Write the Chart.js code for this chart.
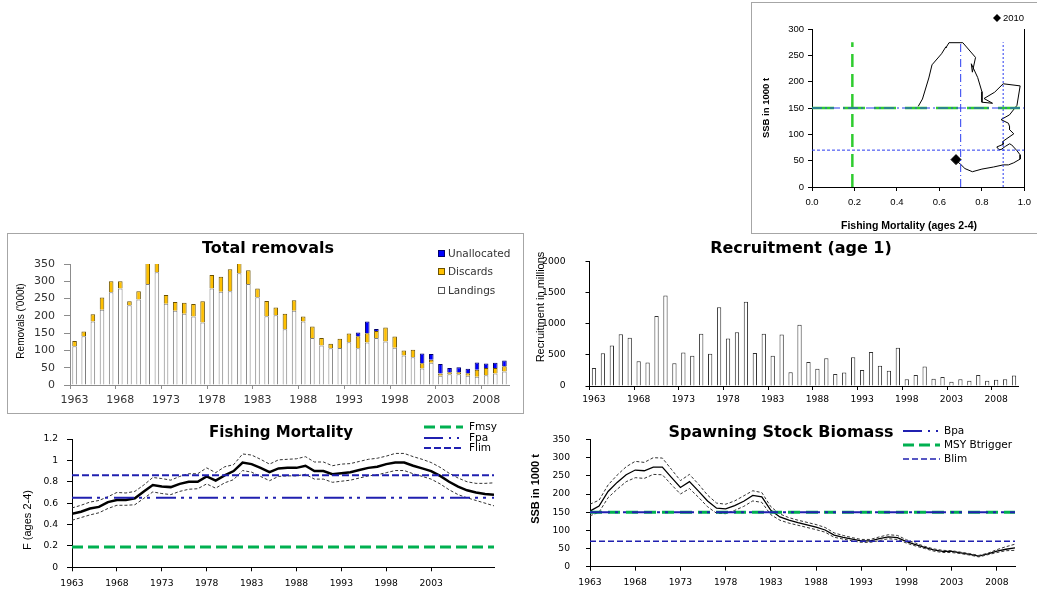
<!DOCTYPE html>
<html>
<head>
<meta charset="UTF-8" />
<title>Stock summary</title>
<script src="https://cdn.jsdelivr.net/npm/chart.js"></script>
<style>
  body { margin: 0; padding: 0; background: #fff; width: 1037px; height: 594px; position: relative; overflow: hidden; }
  canvas { position: absolute; display: block; }
  .box { position: absolute; border: 1px solid #a6a6a6; box-sizing: border-box; }
</style>
</head>
<body>
<div class="box" style="left:751px;top:2px;width:300px;height:232px;"></div>
<div class="box" style="left:7px;top:233px;width:517px;height:181px;"></div>
<canvas id="kite"></canvas>
<canvas id="removals"></canvas>
<canvas id="recruits"></canvas>
<canvas id="fishing"></canvas>
<canvas id="ssb"></canvas>
<script>
const years = [1963,1964,1965,1966,1967,1968,1969,1970,1971,1972,1973,1974,1975,1976,1977,1978,1979,1980,1981,1982,
  1983,1984,1985,1986,1987,1988,1989,1990,1991,1992,1993,1994,1995,1996,1997,1998,1999,2000,2001,2002,
  2003,2004,2005,2006,2007,2008,2009,2010];
const tickYears = [1963,1968,1973,1978,1983,1988,1993,1998,2003,2008];
const fTickYears = [1963,1968,1973,1978,1983,1988,1993,1998,2003];

// removals ('000 t)
const landings = [112,141,184,218,268,279,231,247,292,326, 235,215,206,198,181,279,270,271,323,292,
  254,199,202,161,215,184,136,114,106,107, 124,106,123,136,126,108,85,80,48,64, 27,31,31,27,24,28,33,39];
const discards = [15,14,21,35,32,21,11,24,63,34, 25,25,32,36,61,39,43,64,38,40,
  25,44,22,45,30,14,33,22,13,27, 25,35,27,20,40,32,15,22,15,9, 6,6,6,7,20,21,16,15];
const unallocated = [0,0,0,0,0,0,0,0,0,0, 0,0,0,0,0,0,0,0,0,0,
  0,0,0,0,0,0,0,0,0,0, 0,11,34,6,0,0,0,0,28,17, 28,12,14,13,21,13,15,17];

// recruitment age 1 (millions)
const recruitment = [290,527,650,832,775,399,379,1123,1455,365, 537,488,838,517,1265,765,862,1355,530,838,
  485,828,219,985,385,276,445,192,217,463, 256,547,325,246,616,108,177,315,118,143, 69,108,84,177,84,99,108,167];

// fishing mortality ages 2-4
const fMean = [0.50,0.52,0.55,0.565,0.61,0.63,0.63,0.645,0.71,0.77, 0.755,0.75,0.78,0.80,0.80,0.85,0.81,0.86,0.90,0.98,
  0.965,0.93,0.89,0.925,0.93,0.93,0.95,0.90,0.90,0.87, 0.88,0.89,0.91,0.93,0.94,0.965,0.98,0.98,0.95,0.925,
  0.90,0.855,0.80,0.755,0.72,0.70,0.685,0.678];
const fHigh = [0.555,0.58,0.61,0.625,0.66,0.70,0.695,0.71,0.77,0.84, 0.83,0.815,0.85,0.875,0.875,0.93,0.885,0.94,0.96,1.06,
  1.05,1.01,0.965,1.005,1.01,1.015,1.035,0.985,0.985,0.95, 0.965,0.97,0.99,1.01,1.02,1.04,1.065,1.065,1.035,1.01,
  0.98,0.935,0.88,0.835,0.80,0.785,0.785,0.79];
const fLow = [0.44,0.465,0.49,0.51,0.55,0.58,0.58,0.585,0.645,0.705, 0.69,0.68,0.71,0.73,0.735,0.78,0.74,0.79,0.82,0.905,
  0.89,0.85,0.81,0.85,0.855,0.855,0.87,0.825,0.825,0.795, 0.805,0.815,0.835,0.855,0.865,0.885,0.905,0.905,0.875,0.85,
  0.825,0.78,0.725,0.68,0.65,0.625,0.60,0.575];

// spawning stock biomass (1000 t)
const ssbMean = [153,167,207,232,253,266,264,274,274,246, 218,234,208,181,161,159,168,180,196,192,
  155,137,128,121,115,109,101,87,81,76, 71,71,77,82,80,69,61,53,46,42, 42,38,34,29,35,43,48,52];
const ssbHigh = [172,183,225,252,275,290,287,300,299,268, 237,254,227,197,175,172,181,195,209,204,
  165,145,135,128,122,116,108,93,86,80, 75,75,82,88,86,74,65,56,49,45, 44,40,36,31,37,47,55,62];
const ssbLow = [140,150,190,213,234,245,243,254,253,226, 200,215,191,165,147,146,155,166,181,177,
  143,128,120,114,108,102,95,81,76,71, 67,67,72,77,75,65,57,50,43,39, 39,36,32,27,33,39,44,45];

// reference points
const FMSY = 0.19, FPA = 0.65, FLIM = 0.86;
const KITE_FPA = 0.7, KITE_FLIM = 0.9, KITE_TOP = 275;
const BPA = 150, BTRIGGER = 150, BLIM = 70;

const SANS = "'DejaVu Sans', sans-serif";
const ARIAL = "'Liberation Sans', Arial, sans-serif";
const NARROW = "'Liberation Sans Narrow', 'Liberation Sans', Arial, sans-serif";
const GREEN = '#00b050', BLUE = '#2020b0', KBLUE = '#2a3cf0', KGREEN = '#2fcc2f';
const DASHDOT = [20, 5, 3, 5, 3, 6];

Chart.defaults.animation = false;
Chart.defaults.plugins.legend.display = false;
Chart.defaults.plugins.tooltip.enabled = false;
Chart.defaults.color = '#000';

// draws titles, axis names and legends at page coordinates
const deco = {
  id: 'deco',
  afterDraw(chart, args, o) {
    const ctx = chart.ctx;
    const ox = o.origin[0], oy = o.origin[1];
    ctx.save();
    (o.lines || []).forEach(l => {
      ctx.beginPath();
      ctx.strokeStyle = l.color; ctx.lineWidth = l.width; ctx.setLineDash(l.dash || []);
      ctx.moveTo(l.x1 - ox, l.y - oy); ctx.lineTo(l.x2 - ox, l.y - oy); ctx.stroke();
    });
    ctx.setLineDash([]);
    (o.swatches || []).forEach(s => {
      ctx.fillStyle = s.fill; ctx.strokeStyle = s.stroke; ctx.lineWidth = 1;
      if (s.diamond) {
        ctx.beginPath();
        ctx.moveTo(s.x - ox, s.y - oy - s.r); ctx.lineTo(s.x - ox + s.r, s.y - oy);
        ctx.lineTo(s.x - ox, s.y - oy + s.r); ctx.lineTo(s.x - ox - s.r, s.y - oy);
        ctx.closePath(); ctx.fill();
      } else {
        ctx.fillRect(s.x - ox, s.y - oy, s.w, s.h);
        ctx.strokeRect(s.x - ox + 0.5, s.y - oy + 0.5, s.w - 1, s.h - 1);
      }
    });
    (o.texts || []).forEach(t => {
      ctx.save();
      ctx.translate(t.x - ox, t.y - oy);
      if (t.rotate) ctx.rotate(-Math.PI / 2);
      ctx.font = t.font; ctx.fillStyle = t.color || '#000';
      ctx.textAlign = t.align || 'center'; ctx.textBaseline = 'middle';
      ctx.fillText(t.text, 0, 0);
      ctx.restore();
    });
    ctx.restore();
  }
};

function place(id, left, top, w, h) {
  const c = document.getElementById(id);
  c.width = w; c.height = h;
  c.style.left = left + 'px'; c.style.top = top + 'px';
  return c;
}
const fixW = w => s => { s.width = w; };
const fixH = h => s => { s.height = h; };
const pts = (xs, ys) => xs.map((x, i) => ({ x: x, y: ys[i] }));
const flat = (x1, x2, y) => [{ x: x1, y: y }, { x: x2, y: y }];
const lineDs = (data, color, width, dash) => ({
  data: data, borderColor: color, borderWidth: width, borderDash: dash || [],
  pointRadius: 0, fill: false, tension: 0
});
const plain = v => String(v);

// ---- kite plot (F vs SSB) ----
const kiteTrack = pts(fMean, ssbMean);
new Chart(place('kite', 752, 4, 285, 229), {
  type: 'scatter',
  data: {
    datasets: [
      Object.assign(lineDs(flat(0, 1, BPA), KBLUE, 1.2, [10, 3, 2, 3]), { showLine: true }),
      Object.assign(lineDs(flat(0, 1, BTRIGGER), KGREEN, 2.5, [22, 9]), { showLine: true }),
      Object.assign(lineDs([{ x: FMSY, y: 0 }, { x: FMSY, y: KITE_TOP }], KGREEN, 2.5, [13, 7]), { showLine: true }),
      Object.assign(lineDs([{ x: KITE_FPA, y: 0 }, { x: KITE_FPA, y: KITE_TOP }], KBLUE, 1, [8, 3, 1, 3]), { showLine: true }),
      Object.assign(lineDs([{ x: KITE_FLIM, y: 0 }, { x: KITE_FLIM, y: KITE_TOP }], KBLUE, 1, [2, 2]), { showLine: true }),
      Object.assign(lineDs(flat(0, 1, BLIM), KBLUE, 1, [3, 2]), { showLine: true }),
      {
        data: kiteTrack, showLine: true, borderColor: '#000', borderWidth: 1, tension: 0,
        pointStyle: 'rectRot', backgroundColor: '#000', borderJoinStyle: 'miter',
        pointRadius: c => (c.dataIndex === kiteTrack.length - 1 ? 5 : 0)
      }
    ]
  },
  options: {
    responsive: false,
    layout: { padding: { top: 25, right: 10, left: 0, bottom: 0 } },
    scales: {
      x: {
        type: 'linear', min: 0, max: 1, afterFit: fixH(46),
        border: { color: '#000' },
        grid: { drawOnChartArea: false, tickLength: 4, color: '#000' },
        ticks: { stepSize: 0.2, padding: 6, font: { family: NARROW, size: 9.5 }, callback: v => v.toFixed(1) }
      },
      y: {
        min: 0, max: 300, afterFit: fixW(60),
        border: { color: '#000' },
        grid: { drawOnChartArea: false, tickLength: 4, color: '#000' },
        ticks: { stepSize: 50, padding: 4, font: { family: NARROW, size: 9.5 }, callback: plain }
      },
      y2: {
        position: 'right', min: 0, max: 300, afterFit: fixW(0),
        border: { color: '#000' }, grid: { display: false }, ticks: { display: false }
      }
    },
    plugins: {
      deco: {
        origin: [752, 4],
        swatches: [{ diamond: true, x: 997, y: 18, r: 4, fill: '#000', stroke: '#000' }],
        texts: [
          { text: '2010', x: 1003, y: 18, align: 'left', font: '9.5px ' + NARROW },
          { text: 'SSB in 1000 t', x: 766, y: 108, rotate: true, font: 'bold 9.5px ' + ARIAL },
          { text: 'Fishing Mortality (ages 2-4)', x: 909, y: 226, font: 'bold 10.5px ' + ARIAL }
        ]
      }
    }
  },
  plugins: [deco]
});

// ---- total removals ----
const labelEvery = (v, i) => (tickYears.includes(years[i]) ? String(years[i]) : '');
const tickColor = col => c => (tickYears.includes(years[c.index]) ? col : 'rgba(0,0,0,0)');
new Chart(place('removals', 8, 235, 514, 177), {
  type: 'bar',
  data: {
    labels: years,
    datasets: [
      { label: 'Landings', data: landings, backgroundColor: '#ffffff', borderColor: '#7f7f7f', borderWidth: 1 },
      { label: 'Discards', data: discards, backgroundColor: '#ffc000', borderColor: '#6b5200', borderWidth: 1 },
      { label: 'Unallocated', data: unallocated, backgroundColor: '#0000ff', borderColor: '#00006b', borderWidth: 1 }
    ]
  },
  options: {
    responsive: false,
    layout: { padding: { top: 29, right: 13, left: 0, bottom: 0 } },
    datasets: { bar: { barPercentage: 0.5, categoryPercentage: 1.0 } },
    scales: {
      x: {
        stacked: true, afterFit: fixH(27),
        border: { color: '#8c8c8c' },
        grid: { drawOnChartArea: false, tickLength: 4, color: tickColor('#8c8c8c') },
        ticks: { autoSkip: false, maxRotation: 0, padding: 5, color: '#333', font: { family: SANS, size: 11 }, callback: labelEvery }
      },
      y: {
        stacked: true, min: 0, max: 350, afterFit: fixW(62),
        border: { color: '#8c8c8c' },
        grid: { drawOnChartArea: false, tickLength: 6, color: '#8c8c8c' },
        ticks: { stepSize: 50, padding: 9, color: '#333', font: { family: SANS, size: 11 }, callback: plain }
      }
    },
    plugins: {
      deco: {
        origin: [8, 235],
        swatches: [
          { x: 438, y: 250, w: 7, h: 7, fill: '#0000ff', stroke: '#00006b' },
          { x: 438, y: 268, w: 7, h: 7, fill: '#ffc000', stroke: '#6b5200' },
          { x: 438, y: 287, w: 7, h: 7, fill: '#ffffff', stroke: '#555' }
        ],
        texts: [
          { text: 'Total removals', x: 268, y: 249, font: 'bold 16px ' + SANS },
          { text: 'Unallocated', x: 448, y: 254, align: 'left', color: '#333', font: '10.5px ' + SANS },
          { text: 'Discards', x: 448, y: 272, align: 'left', color: '#333', font: '10.5px ' + SANS },
          { text: 'Landings', x: 448, y: 291, align: 'left', color: '#333', font: '10.5px ' + SANS },
          { text: "Removals ('000t)", x: 21, y: 321, rotate: true, font: '10px ' + ARIAL }
        ]
      }
    }
  },
  plugins: [deco]
});

// ---- recruitment ----
new Chart(place('recruits', 527, 236, 510, 177), {
  type: 'bar',
  data: {
    labels: years,
    datasets: [{ data: recruitment, backgroundColor: '#ffffff', borderColor: '#333', borderWidth: 1 }]
  },
  options: {
    responsive: false,
    layout: { padding: { top: 15, right: 18.5, left: 0, bottom: 0 } },
    datasets: { bar: { barPercentage: 0.48, categoryPercentage: 1.0 } },
    scales: {
      x: {
        afterFit: fixH(27),
        border: { color: '#000' },
        grid: { drawOnChartArea: false, tickLength: 4, color: tickColor('#000') },
        ticks: { autoSkip: false, maxRotation: 0, padding: 4, font: { family: SANS, size: 9.2 }, callback: labelEvery }
      },
      y: {
        min: 0, max: 2000, afterFit: fixW(62.5),
        border: { color: '#000' },
        grid: { drawOnChartArea: false, tickLength: 4, color: '#000' },
        ticks: { stepSize: 500, padding: 20, font: { family: SANS, size: 9.2 }, callback: plain }
      }
    },
    plugins: {
      deco: {
        origin: [527, 236],
        texts: [
          { text: 'Recruitment (age 1)', x: 801, y: 249, font: 'bold 16px ' + SANS },
          { text: 'Recruitment in millions', x: 541, y: 307, rotate: true, font: '11px ' + NARROW }
        ]
      }
    }
  },
  plugins: [deco]
});

// ---- fishing mortality ----
const yearAxis = (ticksList, h) => ({
  type: 'linear', min: years[0], max: years[years.length - 1], afterFit: fixH(h),
  afterBuildTicks: s => { s.ticks = ticksList.map(v => ({ value: v })); },
  border: { color: '#000' },
  grid: { drawOnChartArea: false, tickLength: 4, color: '#000' },
  ticks: { padding: 6.5, font: { family: SANS, size: 9.2 }, callback: plain }
});
const y0 = years[0], y1 = years[years.length - 1];
new Chart(place('fishing', 0, 418, 520, 176), {
  type: 'line',
  data: {
    datasets: [
      lineDs(flat(y0, y1, FMSY), GREEN, 3, [11, 5]),
      lineDs(flat(y0, y1, FPA), BLUE, 2, DASHDOT),
      lineDs(flat(y0, y1, FLIM), BLUE, 2, [7, 3]),
      lineDs(pts(years, fHigh), '#333', 1, [3, 2]),
      lineDs(pts(years, fLow), '#333', 1, [3, 2]),
      lineDs(pts(years, fMean), '#000', 2.5)
    ]
  },
  options: {
    responsive: false,
    layout: { padding: { top: 21, right: 26, left: 0, bottom: 0 } },
    scales: {
      x: yearAxis(fTickYears, 26.7),
      y: {
        min: 0, max: 1.2, afterFit: fixW(72),
        border: { color: '#000' },
        grid: { drawOnChartArea: false, tickLength: 5, color: '#000' },
        ticks: { stepSize: 0.2, padding: 9, font: { family: SANS, size: 9.2 }, callback: v => String(Math.round(v * 10) / 10) }
      }
    },
    plugins: {
      deco: {
        origin: [0, 418],
        lines: [
          { x1: 424, x2: 463, y: 427, color: GREEN, width: 3, dash: [11, 5] },
          { x1: 424, x2: 463, y: 438, color: BLUE, width: 2, dash: [19, 6, 2, 6, 2, 6] },
          { x1: 424, x2: 463, y: 448, color: BLUE, width: 2, dash: [7, 3] }
        ],
        texts: [
          { text: 'Fishing Mortality', x: 281, y: 433, font: 'bold 15px ' + SANS },
          { text: 'Fmsy', x: 469, y: 427, align: 'left', font: '10.5px ' + SANS },
          { text: 'Fpa', x: 469, y: 438, align: 'left', font: '10.5px ' + SANS },
          { text: 'Flim', x: 469, y: 448, align: 'left', font: '10.5px ' + SANS },
          { text: 'F (ages 2-4)', x: 28, y: 520, rotate: true, font: '11px ' + ARIAL }
        ]
      }
    }
  },
  plugins: [deco]
});

// ---- spawning stock biomass ----
new Chart(place('ssb', 525, 418, 512, 176), {
  type: 'line',
  data: {
    datasets: [
      lineDs(flat(y0, y1, BPA), BLUE, 2, DASHDOT),
      lineDs(flat(y0, y1, BTRIGGER), GREEN, 3, [12, 6]),
      lineDs(flat(y0, y1, BLIM), BLUE, 1.5, [6, 3]),
      lineDs(pts(years, ssbHigh), '#333', 1, [3, 2]),
      lineDs(pts(years, ssbLow), '#333', 1, [3, 2]),
      lineDs(pts(years, ssbMean), '#000', 1.3)
    ]
  },
  options: {
    responsive: false,
    layout: { padding: { top: 10.3, right: 22, left: 0, bottom: 0 } },
    scales: {
      x: yearAxis(tickYears, 27.3),
      y: {
        min: 0, max: 350, afterFit: fixW(65),
        border: { color: '#000' },
        grid: { drawOnChartArea: false, tickLength: 4, color: '#000' },
        ticks: { stepSize: 50, padding: 16, font: { family: SANS, size: 9.2 }, callback: plain }
      }
    },
    plugins: {
      deco: {
        origin: [525, 418],
        lines: [
          { x1: 903, x2: 940, y: 431, color: BLUE, width: 2, dash: [19, 6, 2, 6, 2, 6] },
          { x1: 903, x2: 940, y: 445, color: GREEN, width: 3, dash: [11, 5] },
          { x1: 903, x2: 940, y: 459, color: BLUE, width: 1.5, dash: [6, 3] }
        ],
        texts: [
          { text: 'Spawning Stock Biomass', x: 781, y: 433, font: 'bold 16px ' + SANS },
          { text: 'Bpa', x: 944, y: 431, align: 'left', font: '10.5px ' + SANS },
          { text: 'MSY Btrigger', x: 944, y: 445, align: 'left', font: '10.5px ' + SANS },
          { text: 'Blim', x: 944, y: 459, align: 'left', font: '10.5px ' + SANS },
          { text: 'SSB in 1000 t', x: 536, y: 489, rotate: true, font: 'bold 11px ' + NARROW }
        ]
      }
    }
  },
  plugins: [deco]
});
</script>
</body>
</html>
